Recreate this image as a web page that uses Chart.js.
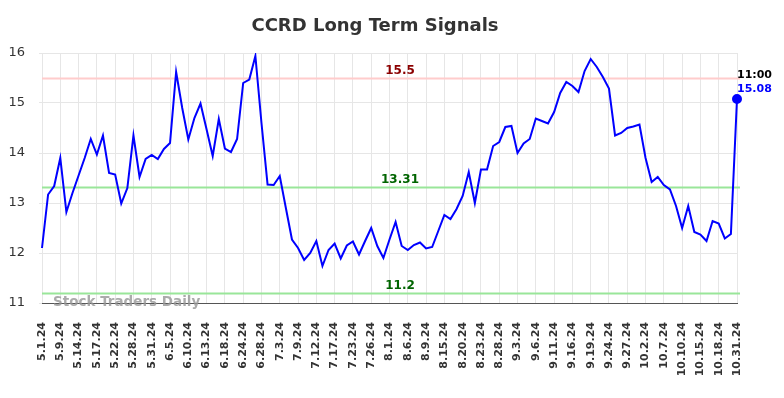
<!DOCTYPE html>
<html>
<head>
<meta charset="utf-8">
<script src="https://cdn.jsdelivr.net/npm/chart.js@4/dist/chart.umd.min.js"></script>
<style>
  html, body { margin: 0; padding: 0; background: #fff; }
  #wrap { width: 784px; height: 398px; }
</style>
</head>
<body>
<div id="wrap"><canvas id="chart" width="784" height="398"></canvas></div>
<script>
// tick labels, one for every third point
const tickLabels = [
  "5.1.24", "5.9.24", "5.14.24", "5.17.24", "5.22.24", "5.28.24", "5.31.24",
  "6.5.24", "6.10.24", "6.13.24", "6.18.24", "6.24.24", "6.28.24", "7.3.24",
  "7.9.24", "7.12.24", "7.17.24", "7.23.24", "7.26.24", "8.1.24", "8.6.24",
  "8.9.24", "8.15.24", "8.20.24", "8.23.24", "8.28.24", "9.3.24", "9.6.24",
  "9.11.24", "9.16.24", "9.19.24", "9.24.24", "9.27.24", "10.2.24", "10.7.24",
  "10.10.24", "10.15.24", "10.18.24", "10.31.24",
];

const prices = [
  12.10, 13.17, 13.34, 13.90, 12.82, 13.20, 13.55, 13.90, 14.28, 13.97,
  14.35, 13.60, 13.57, 12.99, 13.30, 14.35, 13.52, 13.88, 13.96, 13.88,
  14.08, 14.20, 15.62, 14.90, 14.27, 14.70, 14.99, 14.47, 13.94, 14.68,
  14.09, 14.02, 14.28, 15.40, 15.47, 15.94, 14.60, 13.37, 13.36, 13.54,
  12.90, 12.27, 12.10, 11.86, 12.00, 12.24, 11.74, 12.06, 12.19, 11.89,
  12.15, 12.23, 11.97, 12.24, 12.50, 12.14, 11.90, 12.27, 12.62, 12.14,
  12.06, 12.16, 12.21, 12.09, 12.12, 12.44, 12.76, 12.68, 12.88, 13.14,
  13.62, 13.00, 13.67, 13.67, 14.14, 14.22, 14.52, 14.54, 14.00, 14.19,
  14.28, 14.69, 14.64, 14.59, 14.82, 15.20, 15.42, 15.34, 15.22, 15.64,
  15.88, 15.72, 15.52, 15.29, 14.35, 14.40, 14.50, 14.53, 14.57, 13.90,
  13.42, 13.52, 13.36, 13.27, 12.94, 12.50, 12.94, 12.42, 12.37, 12.24,
  12.64, 12.59, 12.29, 12.38, 15.08,
];

const resistance = [15.5];
const supports = [13.31, 11.2];
const lastTime = "11:00";
const title = "CCRD Long Term Signals";

const FONT = "'DejaVu Sans', sans-serif";

// title, horizontal signal lines + their labels, watermark, last value
const overlayPlugin = {
  id: "overlay",
  beforeDatasetsDraw(chart) {
    const { ctx, chartArea, scales } = chart;
    ctx.save();
    ctx.fillStyle = "#333";
    ctx.font = "bold 18px " + FONT;
    ctx.textAlign = "center";
    ctx.textBaseline = "middle";
    ctx.fillText(title, 375, 26);
    ctx.restore();

    const draw = (val, lineColor, textColor) => {
      const y = Math.round(scales.y.getPixelForValue(val)) + 0.5;
      ctx.save();
      ctx.strokeStyle = lineColor;
      ctx.lineWidth = 2;
      ctx.beginPath();
      ctx.moveTo(chartArea.left, y);
      ctx.lineTo(chartArea.right + 3, y);
      ctx.stroke();
      ctx.fillStyle = textColor;
      ctx.font = "bold 12px " + FONT;
      ctx.textAlign = "center";
      ctx.textBaseline = "bottom";
      ctx.fillText(String(val), 400, y - 2);
      ctx.restore();
    };
    resistance.forEach((v) => draw(v, "#ffcccc", "#8b0000"));
    supports.forEach((v) => draw(v, "#99e699", "#006400"));
  },
  afterDatasetsDraw(chart) {
    const { ctx, chartArea, scales } = chart;
    ctx.save();
    ctx.font = "bold 13.5px " + FONT;
    ctx.fillStyle = "rgba(150,150,150,0.8)";
    ctx.textAlign = "left";
    ctx.textBaseline = "middle";
    ctx.fillText("Stock Traders Daily", 53, chartArea.bottom - 1);

    const last = prices.length - 1;
    const x = scales.x.getPixelForValue(last);
    ctx.font = "bold 11px " + FONT;
    ctx.fillStyle = "#000";
    ctx.fillText(lastTime, x, 75);
    ctx.fillStyle = "#0000ff";
    ctx.fillText(prices[last].toFixed(2), x, 89);
    ctx.restore();
  },
};

new Chart(document.getElementById("chart"), {
  type: "line",
  data: {
    labels: prices.map((_, i) => i),
    datasets: [
      {
        data: prices,
        borderColor: "#0000ff",
        backgroundColor: "#0000ff",
        borderWidth: 2,
        tension: 0,
        pointRadius: prices.map((_, i) => (i === prices.length - 1 ? 4 : 0)),
        pointHoverRadius: 0,
      },
    ],
  },
  options: {
    responsive: false,
    animation: false,
    layout: { padding: { left: 0, right: 47, top: 53, bottom: 0 } },
    plugins: {
      legend: { display: false },
      tooltip: { enabled: false },
      title: { display: false },
    },
    scales: {
      x: {
        type: "category",
        offset: false,
        afterFit(scale) { scale.height = 95; },
        grid: { color: "#e6e6e6", drawTicks: false },
        border: { color: "#555", width: 1 },
        ticks: {
          autoSkip: false,
          maxRotation: 90,
          minRotation: 90,
          padding: 19,
          color: "#333",
          font: { family: FONT, size: 11, weight: "bold" },
          callback: (v, i) => (i % 3 === 0 ? tickLabels[i / 3] : null),
        },
      },
      y: {
        min: 11,
        max: 16,
        afterFit(scale) { scale.width = 42; },
        grid: { color: "#e6e6e6", tickLength: 3 },
        border: { display: false },
        ticks: {
          stepSize: 1,
          padding: 14,
          color: "#333",
          font: { family: FONT, size: 13 },
        },
      },
    },
  },
  plugins: [overlayPlugin],
});
</script>
</body>
</html>
